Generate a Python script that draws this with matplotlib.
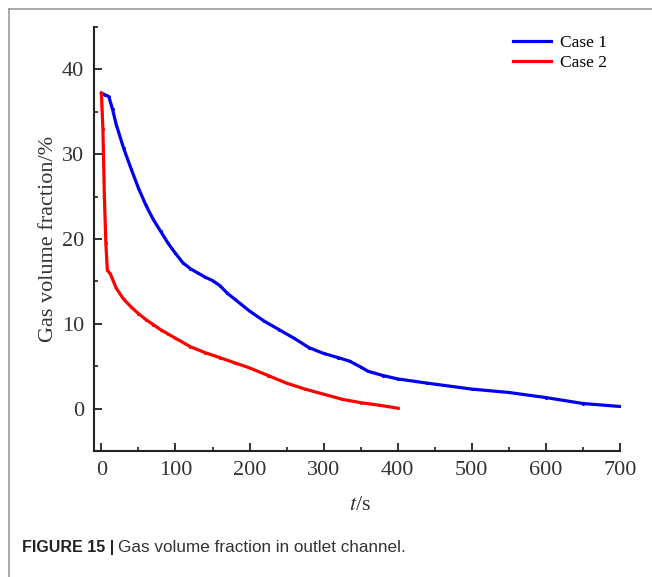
import matplotlib.pyplot as plt
from matplotlib.ticker import MultipleLocator
from matplotlib.lines import Line2D

# gas volume fraction (%) in the outlet channel over time (s)
t_case1 = [0, 5, 10, 15, 20, 30, 40, 50, 60, 70, 80, 90, 100, 110, 120, 130,
           140, 150, 160, 170, 180, 200, 220, 240, 260, 280, 300, 320, 335,
           350, 360, 380, 400, 440, 500, 550, 600, 650, 700]
gvf_case1 = [37.2, 37.0, 36.8, 35.3, 33.5, 30.7, 28.3, 26.0, 24.0, 22.3, 20.9,
             19.5, 18.3, 17.2, 16.5, 16.0, 15.5, 15.1, 14.5, 13.6, 12.9, 11.5,
             10.3, 9.3, 8.3, 7.2, 6.5, 6.0, 5.6, 4.9, 4.4, 3.9, 3.5, 3.0, 2.3,
             1.9, 1.3, 0.6, 0.25]

t_case2 = [0, 2, 4, 6, 8, 12, 20, 30, 40, 50, 60, 70, 80, 90, 100, 120, 140,
           160, 180, 200, 225, 250, 275, 300, 325, 350, 375, 400]
gvf_case2 = [37.2, 33.0, 25.0, 19.5, 16.3, 15.9, 14.2, 12.9, 12.0, 11.2, 10.5,
             9.9, 9.3, 8.8, 8.3, 7.3, 6.6, 6.0, 5.4, 4.8, 3.9, 3.0, 2.3, 1.7,
             1.1, 0.7, 0.4, 0.05]

x_ticks = [0, 100, 200, 300, 400, 500, 600, 700]
y_ticks = [0, 10, 20, 30, 40]

serif = 'Liberation Serif'
blue = '#0000ee'
red = '#ff0000'

fig = plt.figure(figsize=(6.52, 5.77), dpi=100)
ax = fig.add_axes([94 / 652, 1 - 451 / 577, 526 / 652, 424 / 577])

ax.plot(t_case1, gvf_case1, color=blue, lw=2.3, marker='.', ms=2.5)
ax.plot(t_case2, gvf_case2, color=red, lw=2.3, marker='.', ms=2.5)

ax.set_xlim(-10, 700)
ax.set_ylim(-5, 45)
ax.set_xticks(x_ticks)
ax.set_yticks(y_ticks)
ax.xaxis.set_minor_locator(MultipleLocator(50))
ax.yaxis.set_minor_locator(MultipleLocator(5))
ax.tick_params(which='major', direction='in', length=6, width=1.3,
               color='#222222', pad=7, labelsize=16, labelcolor='#333333')
ax.tick_params(which='minor', direction='in', length=3, width=1.2,
               color='#222222')
for lab in ax.get_xticklabels() + ax.get_yticklabels():
    lab.set_fontfamily(serif)

for side in ['top', 'right']:
    ax.spines[side].set_visible(False)
for side in ['left', 'bottom']:
    ax.spines[side].set_linewidth(1.5)
    ax.spines[side].set_color('#222222')

fig.text(360 / 652, 1 - 505 / 577, r'$t$/s', fontsize=16, family=serif,
         color='#333333', ha='center', va='center',
         math_fontfamily='stix')
ax.set_ylabel('Gas volume fraction/%', fontsize=16, family=serif,
              color='#333333', labelpad=3)

handles = [Line2D([], [], color=blue, lw=2.3, marker='.', ms=2.5),
           Line2D([], [], color=red, lw=2.3, marker='.', ms=2.5)]
fig.legend(handles, ['Case 1', 'Case 2'], loc='upper left', frameon=False,
           prop={'family': serif, 'size': 12.5}, handlelength=2.2,
           handletextpad=0.52, labelspacing=0.26,
           bbox_to_anchor=(497 / 652, 1 - 19 / 577))

# panel border along top and left edges
fig.add_artist(Line2D([9 / 652, 1], [1 - 9 / 577] * 2, color='#999999',
                      lw=1.2, transform=fig.transFigure))
fig.add_artist(Line2D([9 / 652] * 2, [0, 1 - 9 / 577], color='#999999',
                      lw=1.2, transform=fig.transFigure))

# caption: bold figure number followed by the plain title
head = fig.text(22 / 652, 1 - 552 / 577, 'FIGURE 15 |', fontsize=11.5,
                family='Liberation Sans', fontweight='bold', color='#222222',
                va='baseline')
ax.annotate('Gas volume fraction in outlet channel.', xy=(1, 0),
            xycoords=head, xytext=(3, 0), textcoords='offset points',
            fontsize=12.3, family='Liberation Sans', color='#333333',
            va='bottom', annotation_clip=False)

fig.savefig('out.png', dpi=100)
